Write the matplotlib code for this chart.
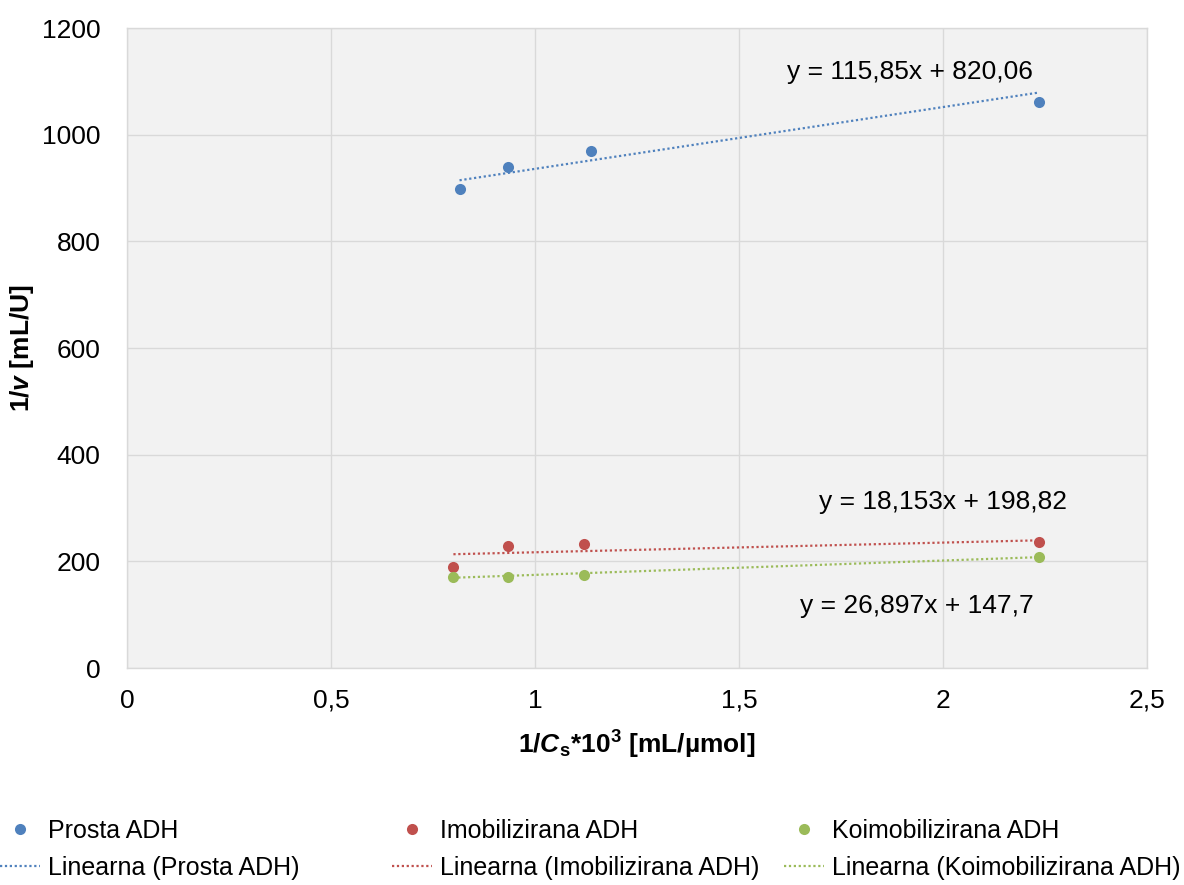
import matplotlib
matplotlib.use("Agg")
import matplotlib.pyplot as plt
from matplotlib.lines import Line2D
from matplotlib import font_manager
import numpy as np

# --- data ---------------------------------------------------------------
series_names = ["Prosta ADH", "Imobilizirana ADH", "Koimobilizirana ADH"]
x_prosta = [0.815, 0.933, 1.138, 2.235]
y_prosta = [898, 940, 969, 1061]
x_imob = [0.800, 0.933, 1.121, 2.235]
y_imob = [190, 228, 233, 236]
x_koimob = [0.800, 0.933, 1.121, 2.235]
y_koimob = [171, 171, 175, 208]
# linear fits (slope, intercept)
fit_prosta = (115.85, 820.06)
fit_imob = (18.153, 198.82)
fit_koimob = (26.897, 147.7)
fit_labels = ["y = 115,85x + 820,06", "y = 18,153x + 198,82", "y = 26,897x + 147,7"]
x_ticks = [0, 0.5, 1, 1.5, 2, 2.5]
x_ticklabels = ["0", "0,5", "1", "1,5", "2", "2,5"]
y_ticks = [0, 200, 400, 600, 800, 1000, 1200]

colors = ["#4f81bd", "#c0504d", "#9bbb59"]

# --- fonts --------------------------------------------------------------
available = {f.name for f in font_manager.fontManager.ttflist}
base = "Liberation Sans Narrow" if "Liberation Sans Narrow" in available else "Liberation Sans"
plt.rcParams["font.family"] = [base, "DejaVu Sans"]
plt.rcParams["mathtext.fontset"] = "custom"
plt.rcParams["mathtext.rm"] = base
plt.rcParams["mathtext.it"] = base + ":italic"
plt.rcParams["mathtext.bf"] = base + ":bold"
plt.rcParams["mathtext.bfit"] = base + ":italic:bold"
fs = 19
fs_leg = 18

fig = plt.figure(figsize=(11.84, 8.85), dpi=100)
ax = fig.add_axes([127 / 1184, 1 - 668 / 885, (1147 - 127) / 1184, (668 - 28) / 885])
ax.set_facecolor("#f2f2f2")

xs = [x_prosta, x_imob, x_koimob]
ys = [y_prosta, y_imob, y_koimob]
fits = [fit_prosta, fit_imob, fit_koimob]

for xv, yv, (m, b), c in zip(xs, ys, fits, colors):
    xl = np.array([min(xv), max(xv)])
    ax.plot(xl, m * xl + b, linestyle=(0, (1, 1.2)), color=c, linewidth=1.6, zorder=3)
    ax.plot(xv, yv, "o", color=c, markersize=8, markeredgewidth=0, zorder=4)

ax.text(1.92, 1117, fit_labels[0], fontsize=fs, ha="center", va="center")
ax.text(2.0, 311, fit_labels[1], fontsize=fs, ha="center", va="center")
ax.text(1.937, 116, fit_labels[2], fontsize=fs, ha="center", va="center")

ax.set_xlim(0, 2.5)
ax.set_ylim(0, 1200)
ax.set_xticks(x_ticks)
ax.set_xticklabels(x_ticklabels)
ax.set_yticks(y_ticks)
ax.tick_params(length=0, labelsize=fs)
ax.tick_params(axis="x", pad=15)
ax.tick_params(axis="y", pad=19)
ax.grid(True, color="#d9d9d9", linewidth=1)
ax.set_axisbelow(True)
for s in ax.spines.values():
    s.set_color("#d9d9d9")
    s.set_linewidth(1)

ax.set_xlabel(r"$\mathbf{1/}\mathbfit{C}_{\mathbf{s}}\mathbf{*10}^{\mathbf{3}}\mathbf{\ [mL/µmol]}$",
              fontsize=fs)
ax.set_ylabel(r"$\mathbf{1/}\mathbfit{v}\mathbf{\ [mL/U]}$", fontsize=fs)
ax.xaxis.label.set_va("center")
ax.yaxis.label.set_va("center")
ax.xaxis.set_label_coords(0.5, (668 - 745) / 640)
ax.yaxis.set_label_coords((22 - 127) / 1020, 0.5)

# legend: three equal-width columns, each holding the points and their trend line
col_x = [0 / 1184, 392 / 1184, 784 / 1184]
for name, c, cx in zip(series_names, colors, col_x):
    h = [Line2D([], [], marker="o", linestyle="none", color=c, markersize=8, markeredgewidth=0),
         Line2D([], [], linestyle=(0, (1, 1.2)), color=c, linewidth=1.6)]
    fig.legend(h, [name, f"Linearna ({name})"], loc="upper left",
               bbox_to_anchor=(cx, 1 - 819 / 885), frameon=False, fontsize=fs_leg,
               handlelength=1.6, handletextpad=0.3, labelspacing=0.5,
               borderaxespad=0, borderpad=0)

fig.savefig("out.png", dpi=100, facecolor="white")
